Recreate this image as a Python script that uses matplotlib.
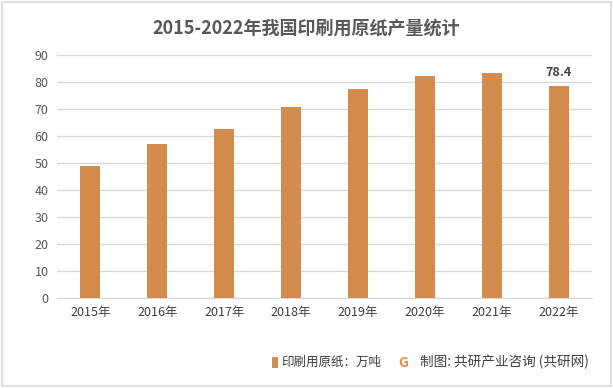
import matplotlib
matplotlib.use("Agg")
import matplotlib.pyplot as plt
from matplotlib.patches import Rectangle

plt.rcParams['font.family'] = ['Noto Sans CJK SC', 'DejaVu Sans']

years = ['2015年', '2016年', '2017年', '2018年', '2019年', '2020年', '2021年', '2022年']
values = [49.0, 57.0, 62.6, 70.7, 77.4, 82.3, 83.3, 78.4]
yticks = [0, 10, 20, 30, 40, 50, 60, 70, 80, 90]

bar_color = '#D38B4E'
text_color = '#595959'

fig = plt.figure(figsize=(6.13, 3.88), dpi=100)
fig.patch.set_facecolor('white')
fig.add_artist(Rectangle((0.003, 0.004), 0.994, 0.991, transform=fig.transFigure,
                         fill=False, edgecolor='#D9D9D9', linewidth=1.2))

ax = fig.add_axes([0.093, 0.233, 0.873, 0.625])
x = range(len(years))
ax.bar(x, values, width=0.3, color=bar_color, zorder=3)
ax.set_xlim(-0.5, len(years) - 0.5)
ax.set_ylim(0, 90)
ax.set_yticks(yticks)
ax.set_yticklabels([str(t) for t in yticks], fontsize=9, color=text_color)
ax.set_xticks(list(x))
ax.set_xticklabels(years, fontsize=9, color='#404040')
ax.yaxis.grid(True, color='#D9D9D9', linewidth=1, zorder=0)
for s in ['top', 'right', 'left']:
    ax.spines[s].set_visible(False)
ax.spines['bottom'].set_color('#D9D9D9')
ax.tick_params(axis='both', length=0, pad=6)

ax.annotate(f'{values[-1]:.1f}', (x[-1], values[-1]), xytext=(0, 5),
            textcoords='offset points', ha='center', va='bottom',
            fontsize=9, fontweight='bold', color='#404040')

fig.text(0.5, 0.928, '2015-2022年我国印刷用原纸产量统计', ha='center', va='center',
         fontsize=13, fontweight='bold', color=text_color)

# legend / source line
fig.add_artist(Rectangle((0.443, 0.052), 0.011, 0.028, transform=fig.transFigure,
                         facecolor=bar_color, edgecolor='none'))
fig.text(0.458, 0.066, '印刷用原纸：万吨', ha='left', va='center', fontsize=9, color='#404040')
fig.text(0.658, 0.064, 'G', ha='center', va='center', fontsize=10, fontweight='bold',
         color='#F08A3C')
fig.text(0.685, 0.066, '制图: 共研产业咨询 (共研网)', ha='left', va='center', fontsize=9.8,
         color='#404040')

fig.savefig('out.png', dpi=100)
